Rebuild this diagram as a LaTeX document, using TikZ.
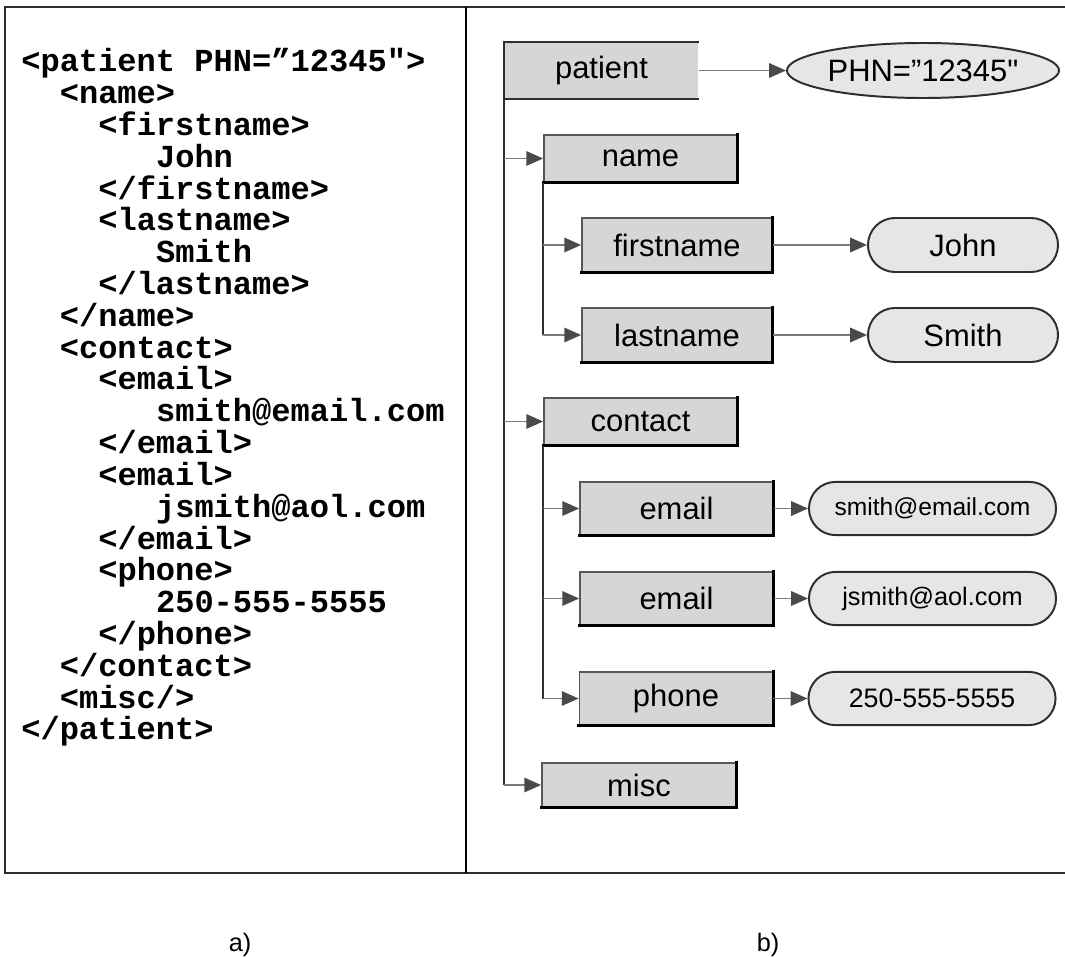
\documentclass[tikz,border=0pt]{standalone}
\usepackage{fontspec}
\setmainfont{Liberation Sans}
\setmonofont{Liberation Mono}
\usetikzlibrary{arrows.meta,shapes.geometric,shapes.misc}
\definecolor{TreeFill}{HTML}{D6D6D6}
\definecolor{LeafFill}{HTML}{E6E6E6}
\definecolor{LinkGray}{HTML}{7A7A7A}
\definecolor{TipGray}{HTML}{4A4A4A}
\definecolor{EdgeDark}{HTML}{2E2E2E}
\tikzset{
  elem/.style={draw=EdgeDark!80,fill=TreeFill,line width=1.2pt,inner sep=0pt,
    minimum width=4.825cm,font=\fontsize{22}{26}\selectfont},
  leaf/.style={rounded rectangle,draw=EdgeDark,fill=LeafFill,line width=1.4pt,
    inner sep=0pt,minimum height=1.33cm,font=\fontsize{22}{26}\selectfont},
  link/.style={LinkGray,line width=1.4pt,
    -{Triangle[length=0.42cm,width=0.36cm,color=TipGray]}},
  trunk/.style={EdgeDark,line width=1.9pt},
  edge shade/.style={black,line width=2.2pt,line cap=rect},
  xmlline/.style={anchor=base west,inner sep=0pt,
    font=\ttfamily\bfseries\fontsize{22.8}{24}\selectfont},
}

\begin{document}
\begin{tikzpicture}[x=0.025cm,y=-0.025cm]
  \useasboundingbox (0,0) rectangle (1065,957);

  % frame
  \draw[EdgeDark,line width=1.4pt] (1065,7) -- (5,7) -- (5,873) -- (1065,873);
  \draw[black,line width=1.8pt] (466,7) -- (466,873);

  % a) xml text
  \foreach \n/\ind/\txt in {
    0/0/{<patient PHN=”12345">},
    1/2/{<name>},
    2/4/{<firstname>},
    3/7/{John},
    4/4/{</firstname>},
    5/4/{<lastname>},
    6/7/{Smith},
    7/4/{</lastname>},
    8/2/{</name>},
    9/2/{<contact>},
    10/4/{<email>},
    11/7/{smith@email.com},
    12/4/{</email>},
    13/4/{<email>},
    14/7/{jsmith@aol.com},
    15/4/{</email>},
    16/4/{<phone>},
    17/7/{250-555-5555},
    18/4/{</phone>},
    19/2/{</contact>},
    20/2/{<misc/>},
    21/0/{</patient>}
  }{
    \node[xmlline] (line\n) at ({21+\ind*19.25},{72+\n*31.8}) {\txt};
  }

  % b) tree
  \node[elem,draw=none,minimum height=1.375cm] (patient) at (601.5,70.5) {patient};
  \draw[EdgeDark,line width=1.6pt] (patient.north east) -- (patient.north west)
    -- (patient.south west) -- (patient.south east);
  \node[ellipse,draw=EdgeDark,fill=LeafFill,line width=1.4pt,inner sep=0pt,
    minimum width=6.8cm,minimum height=1.375cm,font=\fontsize{22}{26}\selectfont]
    (phn) at (923,70.5) {PHN=”12345\textquotedbl};

  \node[elem,minimum height=1.175cm] (name) at (640.5,158.5) {name};
  \node[elem,minimum width=4.75cm,minimum height=1.35cm] (firstname) at (677,245) {firstname};
  \node[elem,minimum width=4.75cm,minimum height=1.35cm] (lastname) at (677,335) {lastname};
  \node[leaf,minimum width=4.75cm,minimum height=1.35cm] (john) at (963,245) {John};
  \node[leaf,minimum width=4.75cm,minimum height=1.35cm] (smith) at (963,335) {Smith};

  \node[elem,minimum height=1.175cm] (contact) at (640.5,421.5) {contact};
  \node[elem,minimum height=1.325cm] (email1) at (676.5,508.5) {email};
  \node[elem,minimum height=1.325cm] (email2) at (676.5,598.5) {email};
  \node[elem,minimum height=1.325cm] (phone) at (676,698.5) {phone};
  \node[leaf,minimum width=6.175cm,font=\fontsize{17.5}{20}\selectfont] (mail1) at (932.5,508.5) {smith@email.com};
  \node[leaf,minimum width=6.175cm,font=\fontsize{18}{20}\selectfont] (mail2) at (932.5,598.5) {jsmith@aol.com};
  \node[leaf,minimum width=6.175cm,font=\fontsize{19}{22}\selectfont] (tel) at (932,698.5) {250-555-5555};

  \node[elem,minimum width=4.85cm,minimum height=1.1cm] (misc) at (639,785) {misc};

  % darker right and bottom edges of the element boxes
  \foreach \b in {name,firstname,lastname,contact,email1,email2,phone,misc}
    \draw[edge shade] (\b.north east) -- (\b.south east) -- (\b.south west);

  % connectors
  \draw[link] (patient) -- (phn);
  \draw[trunk] (patient.south west) -- (patient.south west |- misc.west);
  \foreach \kid in {name,contact,misc}
    \draw[link] (patient.south west |- \kid.west) -- (\kid.west);
  \draw[trunk] (name.south west) -- (name.south west |- lastname.west);
  \foreach \kid in {firstname,lastname}
    \draw[link] (name.south west |- \kid.west) -- (\kid.west);
  \draw[trunk] (contact.south west) -- (contact.south west |- phone.west);
  \foreach \kid in {email1,email2,phone}
    \draw[link] (contact.south west |- \kid.west) -- (\kid.west);
  \foreach \a/\b in {firstname/john,lastname/smith,email1/mail1,email2/mail2,phone/tel}
    \draw[link] (\a) -- (\b);

  % captions
  \node[font=\fontsize{18}{20}\selectfont] (capa) at (240,945) {a)};
  \node[font=\fontsize{18}{20}\selectfont] (capb) at (768,945) {b)};
\end{tikzpicture}
\end{document}
